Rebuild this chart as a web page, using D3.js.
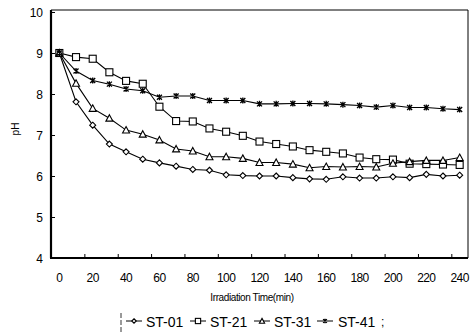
<!DOCTYPE html>
<html><head><meta charset="utf-8">
<script src="https://cdn.jsdelivr.net/npm/d3@7"></script>
<style>
body{margin:0;background:#fff;}
text{font-family:"Liberation Sans Narrow","Arial Narrow","Liberation Sans",sans-serif;fill:#000;}
</style></head>
<body><svg id="c" width="472" height="334"></svg>
<script>
const times = [0,10,20,30,40,50,60,70,80,90,100,110,120,130,140,150,160,170,180,190,200,210,220,230,240];
const st01 = [9.0,7.81,7.24,6.78,6.59,6.41,6.32,6.24,6.16,6.14,6.03,6.01,6.0,6.0,5.96,5.93,5.92,5.98,5.95,5.95,5.98,5.96,6.04,6.0,6.02];
const st21 = [9.0,8.90,8.86,8.53,8.32,8.25,7.69,7.34,7.33,7.16,7.08,6.98,6.84,6.78,6.72,6.63,6.59,6.55,6.45,6.41,6.40,6.30,6.29,6.28,6.27];
const st31 = [9.0,8.26,7.65,7.41,7.12,7.02,6.88,6.66,6.61,6.47,6.47,6.43,6.33,6.33,6.29,6.20,6.23,6.22,6.23,6.22,6.31,6.35,6.38,6.38,6.45];
const st41 = [9.0,8.56,8.33,8.24,8.12,8.08,7.92,7.95,7.95,7.84,7.84,7.84,7.76,7.76,7.77,7.77,7.76,7.74,7.72,7.68,7.72,7.67,7.67,7.64,7.62];
const seriesNames = ["ST-01","ST-21","ST-31","ST-41"];
const xTickLabels = [0,20,40,60,80,100,120,140,160,180,200,220,240];
const xTickMarks = [15,35,55,75,95,115,135,155,175,195,215,235];
const yTicks = [4,5,6,7,8,9,10];

const svg = d3.select("#c");
const L=51,R=468,T=12,B=258;
const x = d3.scaleLinear().domain([-5,245]).range([L,R]);
const y = d3.scaleLinear().domain([4,10]).range([B,T]);

// frame
svg.append("line").attr("x1",L).attr("x2",R).attr("y1",10).attr("y2",10).attr("stroke","#000").attr("stroke-width",1);
svg.append("line").attr("x1",R).attr("x2",R).attr("y1",10).attr("y2",B).attr("stroke","#000").attr("stroke-width",1);

// y axis
const ya = svg.append("g").attr("transform",`translate(${L},0)`)
  .call(d3.axisLeft(y).tickValues(yTicks).tickSize(-4).tickPadding(8).tickFormat(d3.format("d")));
ya.select(".domain").attr("stroke-width",2.2).attr("d",`M0,10V${B}`);
ya.selectAll("text").style("font-size","12px").attr("dy","0.35em");
// x axis marks
const xa = svg.append("g").attr("transform",`translate(0,${B})`)
  .call(d3.axisBottom(x).tickValues(xTickMarks).tickSize(-4).tickFormat(""));
xa.select(".domain").attr("stroke-width",2.2).attr("d",`M${L-1},0H${R}`);
// x labels
svg.append("g").selectAll("text").data(xTickLabels).join("text")
  .attr("x",d=>x(d)).attr("y",282).attr("text-anchor","middle")
  .style("font-size","12px").style("letter-spacing","-0.6px").text(d=>d);

// titles
svg.append("text").attr("x",252).attr("y",301).attr("text-anchor","middle")
  .style("font-size","10px").style("letter-spacing","-0.4px").text("Irradiation Time(min)");
svg.append("text").attr("transform","translate(19,129) rotate(-90)").attr("text-anchor","middle")
  .style("font-size","10px").text("pH");

// markers
function marker(g, type, cx, cy, s){
  s = s || 1;
  if(type===0){
    const r=3*s;
    g.append("path").attr("d",`M${cx},${cy-r}L${cx+r},${cy}L${cx},${cy+r}L${cx-r},${cy}Z`)
      .attr("fill","#fff").attr("stroke","#000").attr("stroke-width",1.1);
  } else if(type===1){
    const r=3.5*s;
    g.append("rect").attr("x",cx-r).attr("y",cy-r).attr("width",2*r).attr("height",2*r)
      .attr("fill","#fff").attr("stroke","#000").attr("stroke-width",1.1);
  } else if(type===2){
    const r=3.5*s;
    g.append("path").attr("d",`M${cx},${cy-r}L${cx+r},${cy+r*0.85}L${cx-r},${cy+r*0.85}Z`)
      .attr("fill","#fff").attr("stroke","#000").attr("stroke-width",1.1);
  } else {
    const r=2.5*s;
    g.append("path").attr("d",`M${cx-r},${cy-r}L${cx+r},${cy+r}M${cx-r},${cy+r}L${cx+r},${cy-r}M${cx},${cy-r*1.2}V${cy+r*1.2}`)
      .attr("fill","none").attr("stroke","#000").attr("stroke-width",1.3);
  }
}

const allSeries = [st01,st21,st31,st41];
const line = d3.line().x((d,i)=>x(times[i])).y(d=>y(d));
allSeries.forEach((s,k)=>{
  const g = svg.append("g");
  g.append("path").datum(s).attr("d",line).attr("fill","none").attr("stroke","#000").attr("stroke-width",1.1);
  s.forEach((v,i)=>marker(g,k,x(times[i]),y(v)));
});

// legend
const lg = svg.append("g");
lg.append("line").attr("x1",121).attr("x2",121).attr("y1",313).attr("y2",333).attr("stroke","#000").attr("stroke-width",0.8).attr("stroke-dasharray","5,2");
const legM = [134,198,262,325];
const legT = [146,210,274,338];
seriesNames.forEach((n,k)=>{
  const mx = legM[k];
  lg.append("line").attr("x1",mx-8).attr("x2",mx+8).attr("y1",321).attr("y2",321).attr("stroke","#000").attr("stroke-width",1);
  marker(lg,k,mx,321,0.75);
  lg.append("text").attr("x",legT[k]).attr("y",326.5).style("font-size","14px").text(n);
});
lg.append("text").attr("x",381).attr("y",326).style("font-size","12px").text(";");
</script></body></html>
